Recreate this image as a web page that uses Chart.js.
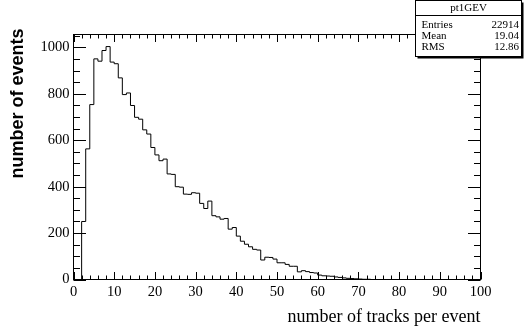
<!DOCTYPE html>
<html><head><meta charset="utf-8">
<script src="https://cdn.jsdelivr.net/npm/chart.js@4/dist/chart.umd.min.js"></script>
<style>html,body{margin:0;padding:0;background:#fff;overflow:hidden}#wrap{width:524px;height:329px;position:relative}</style>
</head><body><div id="wrap"><canvas id="c"></canvas></div>
<script>
// ---- data ----
const binWidth = 1;
const binLow = Array.from({length: 100}, (_, i) => i * binWidth); // bin lower edges 0..99
const counts = [
  0, 0, 250, 563, 754, 951, 941, 987, 1004, 937,
  930, 869, 797, 804, 750, 699, 691, 645, 627, 569,
  537, 512, 519, 455, 453, 400, 398, 368, 367, 374,
  372, 328, 306, 338, 275, 270, 260, 263, 217, 224,
  187, 165, 152, 141, 130, 127, 84, 96, 95, 88,
  72, 72, 65, 57, 57, 33, 38, 34, 30, 28,
  19, 16, 15, 14, 11, 9, 7, 5, 4, 3,
  2, 1, 1, 0, 0, 0, 0, 0, 0, 0,
  0, 0, 0, 0, 0, 0, 0, 0, 0, 0,
  0, 0, 0, 0, 0, 0, 0, 0, 0, 0
];
const xTicks = [0, 10, 20, 30, 40, 50, 60, 70, 80, 90, 100];
const yTicks = [0, 200, 400, 600, 800, 1000];
const xMinorStep = 2;
const yMinorStep = 50;
const xRange = [0, 100];
const yRange = [0, 1056];
const xTitle = 'number of tracks per event';
const yTitle = 'number of events';
const statsTitle = 'pt1GEV';
const statsLabels = ['Entries', 'Mean', 'RMS'];
const statsValues = ['22914', '19.04', '12.86'];

// ---- build dataset ----
const points = binLow.map((x, i) => ({x: x, y: counts[i]}));
points.push({x: binLow[binLow.length - 1] + binWidth, y: 0});

const SERIF = '"Liberation Serif", "Times New Roman", serif';
const SANS = '"Liberation Sans", Arial, sans-serif';

const rootDeco = {
  id: 'rootDeco',
  afterDraw(chart) {
    const ctx = chart.ctx;
    const xs = chart.scales.x, ys = chart.scales.y;
    const a = chart.chartArea;
    ctx.save();
    ctx.strokeStyle = '#000';
    ctx.lineWidth = 1;
    // frame
    ctx.strokeRect(a.left, a.top, a.right - a.left, a.bottom - a.top);
    // x ticks bottom & top
    ctx.beginPath();
    for (let v = xRange[0]; v <= xRange[1] + 1e-9; v += xMinorStep) {
      const px = Math.round(xs.getPixelForValue(v)) + 0.5;
      const major = xTicks.includes(v);
      const L = major ? 7.5 : 4;
      ctx.moveTo(px, a.bottom); ctx.lineTo(px, a.bottom - L);
      ctx.moveTo(px, a.top); ctx.lineTo(px, a.top + L);
    }
    for (let v = yRange[0]; v <= yRange[1]; v += yMinorStep) {
      const py = Math.round(ys.getPixelForValue(v)) + 0.5;
      const major = yTicks.includes(v);
      const L = major ? 12.5 : 6.5;
      ctx.moveTo(a.left, py); ctx.lineTo(a.left + L, py);
      ctx.moveTo(a.right, py); ctx.lineTo(a.right - L, py);
    }
    ctx.stroke();

    // axis titles
    ctx.fillStyle = '#000';
    ctx.font = '18px ' + SERIF;
    ctx.textAlign = 'right';
    ctx.textBaseline = 'alphabetic';
    ctx.fillText(xTitle, a.right, 322);
    ctx.save();
    ctx.translate(22.5, 103.5);
    ctx.rotate(-Math.PI / 2);
    ctx.font = 'bold 18px ' + SANS;
    ctx.textAlign = 'center';
    ctx.fillText(yTitle, 0, 0);
    ctx.restore();

    // stats box
    const bx = 415.5, by = 0.5, bw = 106, bh = 56;
    ctx.fillStyle = '#000';
    ctx.fillRect(bx + 2, by + 2, bw, bh);
    ctx.fillStyle = '#fff';
    ctx.fillRect(bx, by, bw, bh);
    ctx.strokeRect(bx, by, bw, bh);
    ctx.beginPath();
    ctx.moveTo(bx, 15.5); ctx.lineTo(bx + bw, 15.5);
    ctx.stroke();
    ctx.fillStyle = '#000';
    ctx.font = '11px ' + SERIF;
    ctx.textBaseline = 'middle';
    ctx.textAlign = 'center';
    ctx.fillText(statsTitle, bx + bw / 2, 8.5);
    const rowsY = [25, 36, 47];
    statsLabels.forEach((lab, i) => {
      ctx.textAlign = 'left';
      ctx.fillText(lab, 421.5, rowsY[i]);
      ctx.textAlign = 'right';
      ctx.fillText(statsValues[i], 519, rowsY[i]);
    });
    ctx.restore();
  }
};

new Chart(document.getElementById('c'), {
  type: 'line',
  data: {
    datasets: [{
      data: points,
      stepped: 'before',
      borderColor: '#000',
      borderWidth: 1,
      pointRadius: 0,
      fill: false,
      tension: 0
    }]
  },
  options: {
    responsive: true,
    maintainAspectRatio: false,
    animation: false,
    events: [],
    layout: {padding: {left: 0, top: 34.5, right: 43.5, bottom: 0}},
    plugins: {legend: {display: false}, tooltip: {enabled: false}},
    scales: {
      x: {
        type: 'linear',
        min: xRange[0], max: xRange[1],
        afterBuildTicks: s => { s.ticks = xTicks.map(v => ({value: v})); },
        afterFit: s => { s.height = 49.5; },
        grid: {display: false, drawTicks: false},
        border: {display: false},
        ticks: {color: '#000', font: {family: SERIF, size: 14.5}, padding: 4, maxRotation: 0, autoSkip: false,
                callback: v => String(v)}
      },
      y: {
        type: 'linear',
        min: yRange[0], max: yRange[1],
        afterBuildTicks: s => { s.ticks = yTicks.map(v => ({value: v})); },
        afterFit: s => { s.width = 73.5; },
        grid: {display: false, drawTicks: false},
        border: {display: false},
        ticks: {color: '#000', font: {family: SERIF, size: 14.5}, padding: 4,
                callback: v => String(v)}
      }
    }
  },
  plugins: [rootDeco]
});
</script>
</body></html>
